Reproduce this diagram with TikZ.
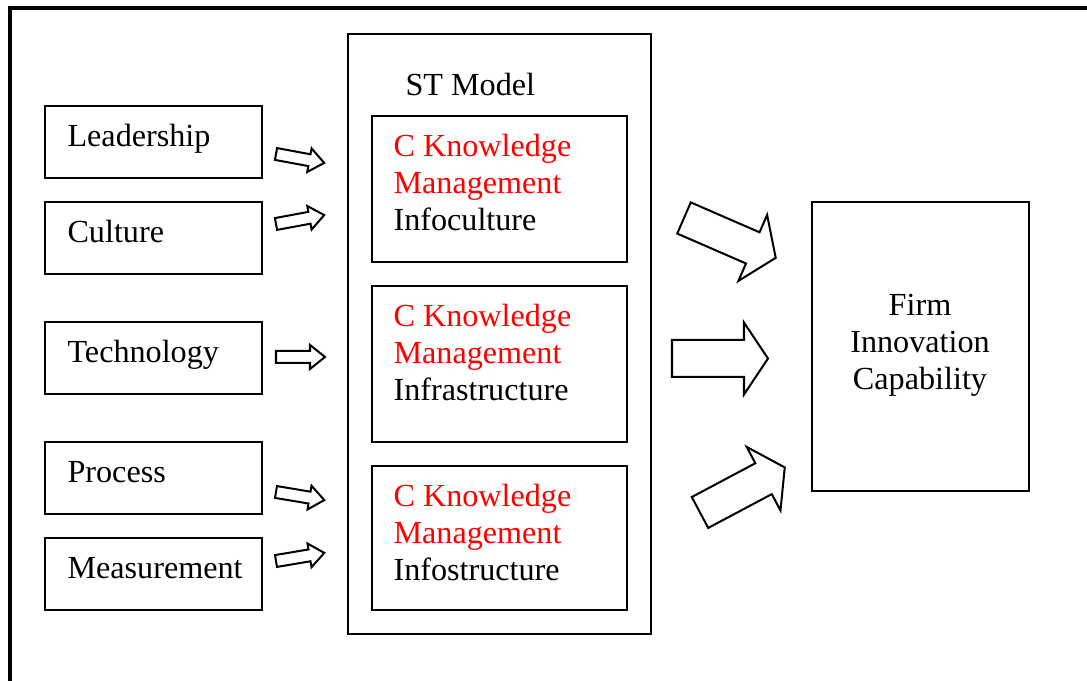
\documentclass[tikz,border=0pt]{standalone}
\usepackage{fontspec}
\setmainfont{Liberation Serif}
\newcommand{\pxu}{0.373pt}
\newcommand{\barrow}[7]{\draw[arrowline, shift={(#1,#2)}, rotate=#3] (0,-#5) -- (#4-#7,-#5) -- (#4-#7,-#6) -- (#4,0) -- (#4-#7,#6) -- (#4-#7,#5) -- (0,#5) -- cycle;}
\tikzset{
  box/.style={draw, line width=0.75pt, inner sep=0pt, rectangle},
  stbox/.style={draw, line width=1pt, inner sep=0pt, rectangle},
  frame/.style={line width=1.3pt},
  arrowline/.style={draw, line width=0.75pt, line join=miter, fill=white},
  txt/.style={inner sep=0pt, anchor=base west, font=\fontsize{12}{13.8}\selectfont},
  ctxt/.style={inner sep=0pt, anchor=base, font=\fontsize{12}{13.8}\selectfont},
  redtxt/.style={txt, text=red}
}
\begin{document}
\begin{tikzpicture}[x=0.373pt, y=-0.373pt]
\useasboundingbox (0,0) rectangle (1087,681);
\clip (0,0) rectangle (1087,681);
% outer frame (only top and left visible)
\draw[frame] (10,700) -- (10,8) -- (1100,8);

% left boxes
\node[box, minimum width=217*\pxu, minimum height=72*\pxu] (lead) at (153.5,142) {};
\node[box, minimum width=217*\pxu, minimum height=72*\pxu] (cult) at (153.5,238) {};
\node[box, minimum width=217*\pxu, minimum height=72*\pxu] (tech) at (153.5,358) {};
\node[box, minimum width=217*\pxu, minimum height=72*\pxu] (proc) at (153.5,478) {};
\node[box, minimum width=217*\pxu, minimum height=72*\pxu] (meas) at (153.5,574) {};
\node[txt] (leadt) at (67,147) {Leadership};
\node[txt] (cultt) at (67,243) {Culture};
\node[txt] (techt) at (67,363) {Technology};
\node[txt] (proct) at (67,483) {Process};
\node[txt] (meast) at (67,579) {Measurement};

% ST model box
\node[stbox, minimum width=303*\pxu, minimum height=600*\pxu] (st) at (499.5,334) {};
\node[txt] (stt) at (405,96) {ST Model};
\node[box, minimum width=255*\pxu, minimum height=146*\pxu] (km1) at (499.5,189) {};
\node[box, minimum width=255*\pxu, minimum height=156*\pxu] (km2) at (499.5,364) {};
\node[box, minimum width=255*\pxu, minimum height=144*\pxu] (km3) at (499.5,538) {};
\node[redtxt] (km1a) at (393,157) {C Knowledge};
\node[redtxt] (km1b) at (393,194) {Management};
\node[txt] (km1c) at (393,231) {Infoculture};
\node[redtxt] (km2a) at (393,327) {C Knowledge};
\node[redtxt] (km2b) at (393,364) {Management};
\node[txt] (km2c) at (393,401) {Infrastructure};
\node[redtxt] (km3a) at (393,507) {C Knowledge};
\node[redtxt] (km3b) at (393,544) {Management};
\node[txt] (km3c) at (393,581) {Infostructure};

% firm box
\node[box, minimum width=217*\pxu, minimum height=289*\pxu] (firm) at (920.5,346.5) {};
\node[ctxt] (firma) at (920,316) {Firm};
\node[ctxt] (firmb) at (920,353) {Innovation};
\node[ctxt] (firmc) at (920,390) {Capability};

% small block arrows
\barrow{276}{154}{-10.5}{49}{6}{12}{15}
\barrow{276}{224}{10.5}{49}{6}{12}{15}
\barrow{276}{357}{0}{49}{6}{12}{15}
\barrow{276}{492}{-9.5}{49}{6}{12}{15}
\barrow{276}{561}{9.5}{49}{6}{12}{15}

% big block arrows
\barrow{684}{218}{-23.5}{100}{17}{36}{25}
\barrow{672}{358.5}{0}{96}{18.5}{36}{24}
\barrow{700}{512.5}{28}{96}{17.5}{36}{24}
\end{tikzpicture}
\end{document}
